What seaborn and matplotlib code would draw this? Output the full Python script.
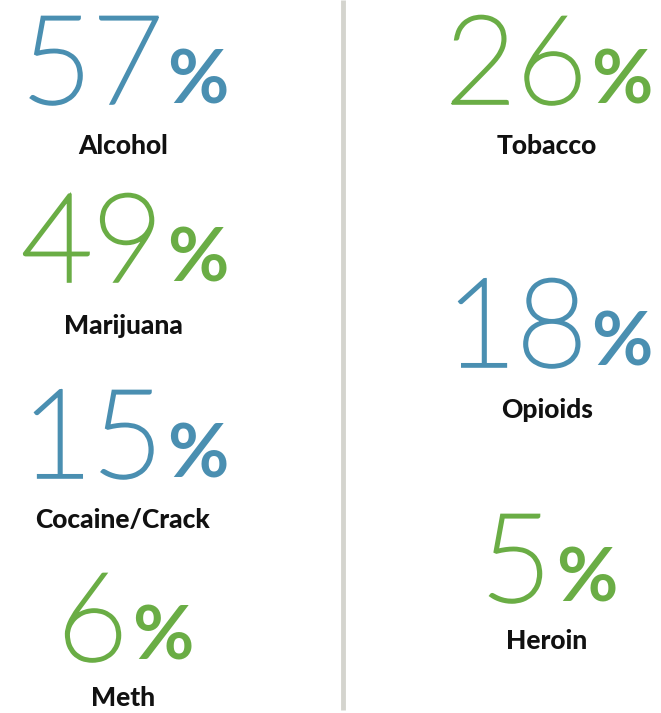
import matplotlib
matplotlib.use("Agg")
import matplotlib.pyplot as plt
import matplotlib.patheffects as pe
import seaborn as sns

# Data
substances = ["Alcohol", "Marijuana", "Cocaine/Crack", "Meth", "Tobacco", "Opioids", "Heroin"]
percents = [57, 49, 15, 6, 26, 18, 5]
column = [0, 0, 0, 0, 1, 1, 1]
tone = ["blue", "green", "blue", "green", "green", "blue", "green"]

# Layout / style
palette = {"blue": "#4a8fb1", "green": "#6aad45"}
col_center = [125, 549]
num_baseline = [103, 281, 477, 660, 103, 366, 601]
label_baseline = [154, 334, 528, 706, 154, 418, 649]

sns.set_theme(style="white")
plt.rcParams["font.family"] = ["Lato", "DejaVu Sans"]

fig = plt.figure(figsize=(6.61, 7.13), dpi=100)
ax = fig.add_axes([0, 0, 1, 1])
ax.set_xlim(0, 661)
ax.set_ylim(713, 0)
ax.axis("off")

# divider
ax.plot([343, 343], [0, 710], color="#d4d4ce", lw=3.5, solid_capstyle="butt")

fig.canvas.draw()
renderer = fig.canvas.get_renderer()

for name, val, col, tn, nb, lb in zip(substances, percents, column, tone,
                                      num_baseline, label_baseline):
    c = palette[tn]
    cx = col_center[col]
    # thin digits: hairline face thickened a little with a stroke
    t_num = ax.text(0, nb, str(val), fontsize=88, fontweight="ultralight",
                    color=c, ha="left", va="baseline",
                    path_effects=[pe.withStroke(linewidth=2.6, foreground=c,
                                                joinstyle="miter")])
    t_pct = ax.text(0, nb, "%", fontsize=54, fontweight="bold",
                    color=c, ha="left", va="baseline")
    wd = t_num.get_window_extent(renderer).width
    wp = t_pct.get_window_extent(renderer).width
    gap = 4
    start = cx - (wd + gap + wp) / 2
    t_num.set_x(start)
    t_pct.set_x(start + wd + gap)
    ax.text(cx - 2, lb, name, fontsize=19, fontweight="black", color="#111111",
            ha="center", va="baseline")

fig.savefig("out.png", dpi=100, facecolor="white")
